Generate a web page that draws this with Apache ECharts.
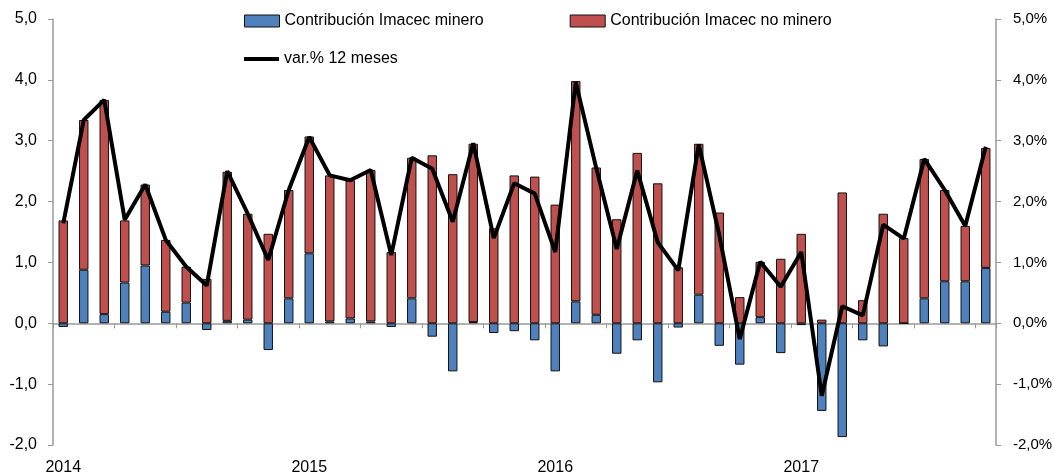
<!DOCTYPE html>
<html>
<head>
<meta charset="utf-8">
<script src="https://cdn.jsdelivr.net/npm/echarts@6/dist/echarts.min.js"></script>
<style>
  html, body { margin: 0; padding: 0; background: #fff; }
  #chart { width: 1054px; height: 475px; }
</style>
</head>
<body>
<div id="chart"></div>
<script>
// months Jan 2014 .. Oct 2017
const years = ['2014', '2015', '2016', '2017'];
const months = [];
years.forEach(function (y) {
  for (let m = 1; m <= 12; m++) {
    if (y === '2017' && m > 10) break;
    months.push(y + '-' + (m < 10 ? '0' + m : m));
  }
});

// contribucion minero (pp)
const minero = [
  -0.06, 0.88, 0.15, 0.67, 0.95, 0.19, 0.34, -0.11, 0.04, 0.06, -0.44, 0.41,
  1.15, 0.03, 0.08, 0.03, -0.06, 0.41, -0.22, -0.79, 0.02, -0.16, -0.13, -0.28,
  -0.79, 0.36, 0.14, -0.50, -0.28, -0.97, -0.07, 0.47, -0.37, -0.68, 0.10, -0.49,
  -0.03, -1.44, -1.87, -0.28, -0.38, 0.00, 0.41, 0.69, 0.69, 0.91
];

// contribucion no minero (pp)
const noMinero = [
  1.69, 2.46, 3.52, 1.02, 1.33, 1.18, 0.59, 0.73, 2.45, 1.74, 1.47, 1.78,
  1.92, 2.40, 2.27, 2.49, 1.17, 2.31, 2.76, 2.45, 2.93, 1.56, 2.43, 2.41,
  1.95, 3.62, 2.42, 1.71, 2.80, 2.30, 0.92, 2.48, 1.82, 0.43, 0.91, 1.06,
  1.47, 0.06, 2.15, 0.38, 1.80, 1.40, 2.29, 1.50, 0.91, 1.97
];

// var.% 12 meses
const var12 = [
  1.64, 3.34, 3.67, 1.70, 2.28, 1.37, 0.93, 0.62, 2.50, 1.80, 1.04, 2.19,
  3.06, 2.43, 2.35, 2.52, 1.12, 2.72, 2.54, 1.67, 2.96, 1.40, 2.30, 2.13,
  1.17, 3.96, 2.55, 1.22, 2.51, 1.33, 0.87, 2.94, 1.45, -0.26, 1.01, 0.60,
  1.17, -1.19, 0.28, 0.13, 1.62, 1.39, 2.70, 2.19, 1.60, 2.90
];

const FONT = 'Liberation Sans';
const fmt = function (v) { return v.toFixed(1).replace('.', ','); };

const chart = echarts.init(document.getElementById('chart'));

chart.setOption({
  animation: false,
  backgroundColor: '#fff',
  textStyle: { fontFamily: FONT },
  grid: { left: 53, right: 58, top: 19, bottom: 30, outerBoundsMode: 'none' },
  legend: [
    {
      left: 244, top: 13, padding: 0,
      itemWidth: 35, itemHeight: 12, itemGap: 86,
      textStyle: { fontFamily: FONT, fontSize: 16, color: '#000' },
      itemStyle: { borderColor: '#111', borderWidth: 1 },
      data: [
        { name: 'Contribución Imacec minero', icon: 'rect' },
        { name: 'Contribución Imacec no minero', icon: 'rect' }
      ]
    },
    {
      left: 244, top: 51, padding: 0,
      itemWidth: 35, itemHeight: 4,
      textStyle: { fontFamily: FONT, fontSize: 16, color: '#000' },
      data: [{ name: 'var.% 12 meses', icon: 'rect' }]
    }
  ],
  xAxis: [
    {
      type: 'category',
      data: months,
      axisLine: { onZero: true, lineStyle: { color: '#999', width: 1.5 } },
      axisTick: { show: true, length: 5, lineStyle: { color: '#999' } },
      axisLabel: { show: false }
    },
    {
      type: 'category',
      data: months,
      position: 'bottom',
      axisLine: { show: false, onZero: false },
      axisTick: { show: false },
      axisLabel: {
        margin: 15,
        fontSize: 16,
        color: '#000',
        interval: function (i) { return i % 12 === 0; },
        formatter: function (v) { return v.slice(0, 4); }
      }
    }
  ],
  yAxis: [
    {
      type: 'value',
      min: -2, max: 5, interval: 1,
      axisLine: { show: true, lineStyle: { color: '#999', width: 1.5 } },
      axisTick: { show: true, length: 5, lineStyle: { color: '#999' } },
      splitLine: { show: false },
      axisLabel: { margin: 16, fontSize: 16, color: '#000', formatter: fmt }
    },
    {
      type: 'value',
      min: -2, max: 5, interval: 1,
      position: 'right',
      axisLine: { show: true, lineStyle: { color: '#999', width: 1.5 } },
      axisTick: { show: true, length: 5, lineStyle: { color: '#999' } },
      splitLine: { show: false },
      axisLabel: {
        margin: 17, fontSize: 15, color: '#000',
        formatter: function (v) { return fmt(v) + '%'; }
      }
    }
  ],
  series: [
    {
      name: 'Contribución Imacec minero',
      type: 'bar',
      stack: 'imacec',
      barWidth: '46%',
      data: minero,
      itemStyle: { color: '#4F81BD', borderColor: '#111', borderWidth: 1 }
    },
    {
      name: 'Contribución Imacec no minero',
      type: 'bar',
      stack: 'imacec',
      barWidth: '46%',
      data: noMinero,
      itemStyle: { color: '#C0504D', borderColor: '#111', borderWidth: 1 }
    },
    {
      name: 'var.% 12 meses',
      type: 'line',
      yAxisIndex: 1,
      data: var12,
      symbol: 'none',
      lineStyle: { color: '#000', width: 4 },
      itemStyle: { color: '#000' }
    }
  ]
});
</script>
</body>
</html>
